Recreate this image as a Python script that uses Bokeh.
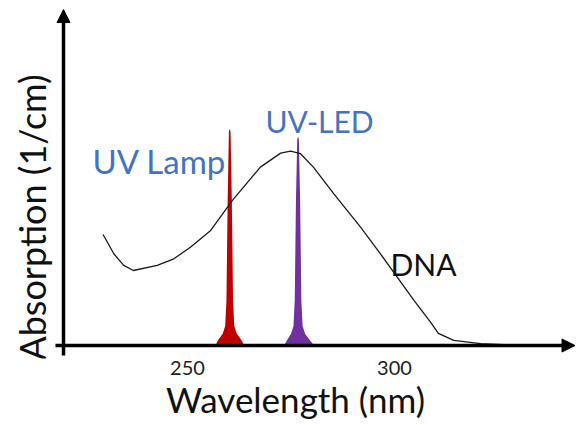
import math
from bokeh.plotting import figure
from bokeh.models import Range1d, FixedTicker, Arrow, NormalHead
from bokeh.core.properties import value
from bokeh.embed import file_html
from bokeh.resources import INLINE

# DNA absorption curve (wavelength nm, arbitrary absorption units)
dna_wl = [229.6, 232.2, 234.6, 236.9, 242.7, 246.7, 250.7, 255.6, 260.8, 267.6,
          272.5, 274.9, 277.3, 280.4, 285.3, 291.8, 296.6, 304.7, 308.7, 310.6,
          314.3, 320.8, 332.1, 342.0]
dna_abs = [0.571, 0.472, 0.412, 0.386, 0.412, 0.446, 0.506, 0.592, 0.746, 0.918,
           0.990, 1.000, 0.987, 0.918, 0.782, 0.609, 0.472, 0.232, 0.120, 0.062,
           0.026, 0.010, 0.000, 0.000]

# UV lamp emission line
lamp_wl = [256.8, 257.3, 258.5, 259.1, 259.4, 259.7, 260.0, 260.2, 260.4, 260.7,
           261.0, 261.3, 261.9, 263.1, 263.7]
lamp_abs = [0.0, 0.026, 0.06, 0.10, 0.23, 0.75, 1.10, 1.115, 1.10, 0.75,
            0.23, 0.10, 0.06, 0.026, 0.0]

# UV-LED emission line
led_wl = [273.3, 274.0, 275.0, 275.6, 275.9, 276.2, 276.5, 276.7, 276.9, 277.2,
          277.5, 277.8, 278.4, 279.6, 280.6]
led_abs = [0.0, 0.026, 0.06, 0.10, 0.23, 0.75, 1.06, 1.076, 1.06, 0.75,
           0.23, 0.10, 0.06, 0.026, 0.0]

x_ticks = [250, 300]
label_texts = ["UV Lamp", "UV-LED", "DNA"]
x_title = "Wavelength (nm)"
y_title = "Absorption (1/cm)"

FONT = "Lato"

p = figure(width=576, height=425, output_backend="svg", toolbar_location=None,
           x_range=Range1d(208.21, 343.96), y_range=Range1d(-0.0669, 1.7756),
           min_border_left=14, min_border_right=0, min_border_top=0,
           min_border_bottom=67)
p.outline_line_color = None
p.xgrid.visible = False
p.ygrid.visible = False
p.background_fill_color = "white"
p.border_fill_color = "white"

xa = p.xaxis[0]
xa.ticker = FixedTicker(ticks=x_ticks)
xa.axis_line_color = None
xa.major_tick_line_color = None
xa.minor_tick_line_color = None
xa.major_tick_out = 0
xa.major_tick_in = 0
xa.major_label_standoff = 2
xa.major_label_text_font = FONT
xa.major_label_text_font_size = "20px"
xa.major_label_text_color = "#222222"
xa.axis_label = x_title
xa.axis_label_text_font = FONT
xa.axis_label_text_font_size = "35px"
xa.axis_label_text_font_style = "normal"
xa.axis_label_text_color = "#111111"
xa.axis_label_standoff = 0

p.yaxis.visible = False

# emission spikes
p.varea(x=lamp_wl, y1=0, y2=lamp_abs, fill_color="#C00000")
p.varea(x=led_wl, y1=0, y2=led_abs, fill_color="#7030A0")

# DNA curve
p.line(dna_wl, dna_abs, line_color="#1a1a1a", line_width=1.3)

# axes with arrow heads
p.add_layout(Arrow(x_start=218.1, y_start=0, x_end=343.6, y_end=0,
                   line_width=3.5, line_color="black",
                   end=NormalHead(size=13, fill_color="black", line_color="black")))
p.add_layout(Arrow(x_start=220.05, y_start=-0.0515, x_end=220.05, y_end=1.729,
                   line_width=3.5, line_color="black",
                   end=NormalHead(size=13, fill_color="black", line_color="black")))

# y axis title (drawn inside the plotting area, left of the axis line)
p.text(x=[212.44], y=[0.659], text=[y_title], angle=math.pi / 2,
       text_align="center", text_baseline="middle", text_color="#111111",
       text_font=value(FONT), text_font_size="36px")

# series labels
p.text(x=[227.05], y=[0.952], text=[label_texts[0]], text_color="#4472C4",
       text_font=value(FONT), text_font_size="33px", text_baseline="alphabetic")
p.text(x=[268.84], y=[1.158], text=[label_texts[1]], text_color="#4472C4",
       text_font=value(FONT), text_font_size="30px", text_baseline="alphabetic")
p.text(x=[299.03], y=[0.422], text=[label_texts[2]], text_color="#111111",
       text_font=value(FONT), text_font_size="30px", text_baseline="alphabetic")

open("out.html", "w").write(file_html(p, INLINE))
